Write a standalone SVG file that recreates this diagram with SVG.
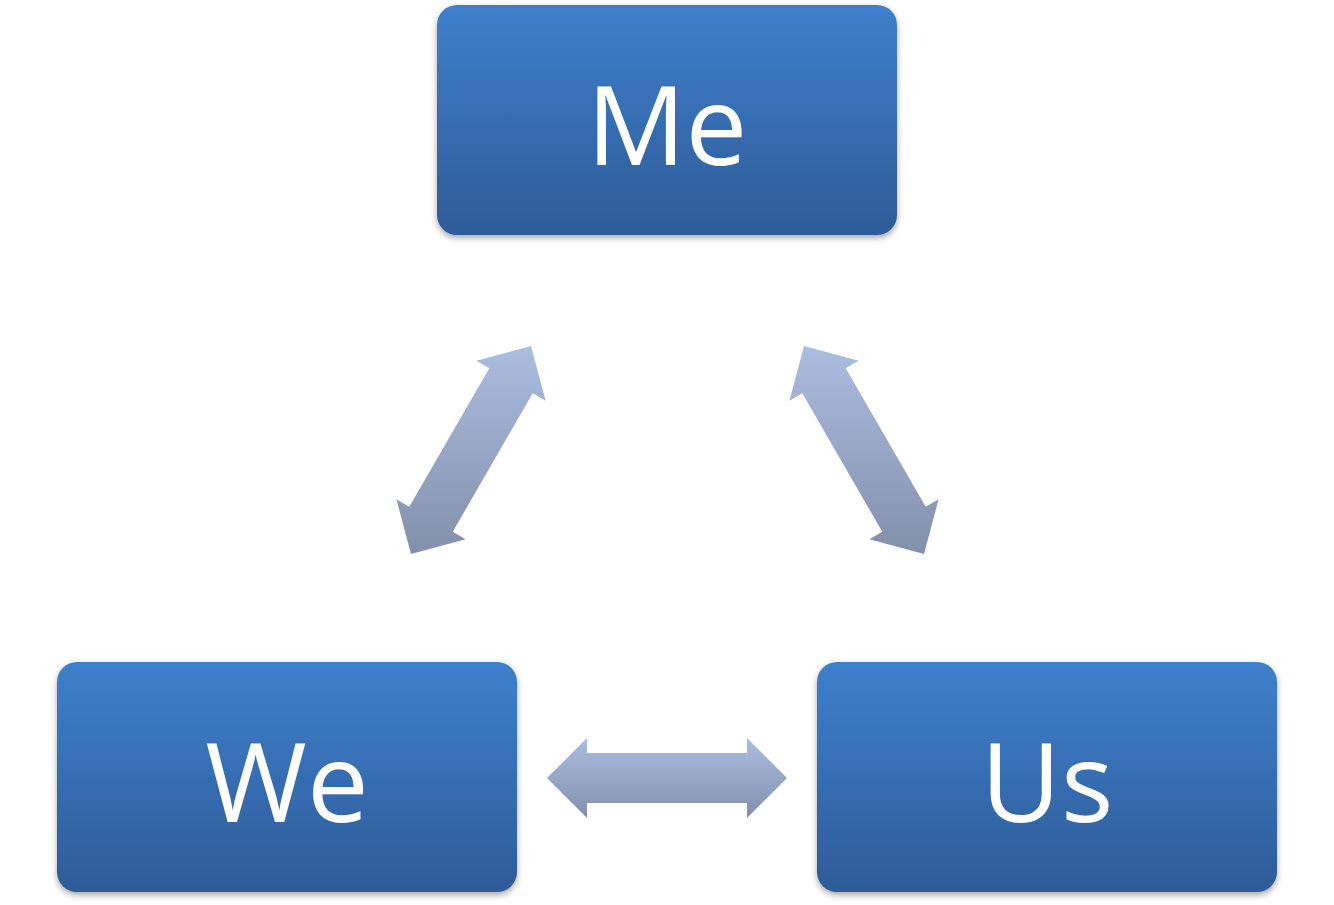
<svg xmlns="http://www.w3.org/2000/svg" width="1334" height="905" viewBox="0 0 1334 905">
<defs>
<linearGradient id="box" x1="0" y1="0" x2="0" y2="1"><stop offset="0" stop-color="#3e80cd"/><stop offset="1" stop-color="#2e5b97"/></linearGradient>
<linearGradient id="arr" x1="0" y1="0" x2="0" y2="1"><stop offset="0" stop-color="#abbde0"/><stop offset="1" stop-color="#8390ab"/></linearGradient>
<filter id="sh" x="-10%" y="-10%" width="120%" height="130%"><feDropShadow dx="0" dy="3" stdDeviation="3" flood-color="#000" flood-opacity="0.35"/></filter>
</defs>
<style>
.b{fill:url(#box);filter:url(#sh)}
.t{fill:#fff;font-family:"Open Sans","DejaVu Sans",sans-serif;font-size:110px;text-anchor:middle}
.a{fill:url(#arr)}
</style>
<rect width="1334" height="905" fill="#fff"/>
<g id="me"><rect class="b" x="437" y="5" width="460" height="230" rx="20"/><text class="t" x="667" y="165">Me</text></g>
<g id="we"><rect class="b" x="57" y="662" width="460" height="230" rx="20"/><text class="t" x="287" y="822">We</text></g>
<g id="us"><rect class="b" x="817" y="662" width="460" height="230" rx="20"/><text class="t" x="1047" y="822">Us</text></g>
<g id="connectors">
<polygon class="a" points="547,778 587,738 587,753 747,753 747,738 787,778 747,818 747,803 587,803 587,818"/>
<polygon class="a" points="411,553.9 396.4,499.3 409.3,506.8 489.3,368.2 476.4,360.7 531,346.1 545.6,400.7 532.7,393.2 452.7,531.8 465.6,539.3"/>
<polygon class="a" points="924,553.9 938.6,499.3 925.7,506.8 845.7,368.2 858.6,360.7 804,346.1 789.4,400.7 802.3,393.2 882.3,531.8 869.4,539.3"/>
</g>
</svg>
